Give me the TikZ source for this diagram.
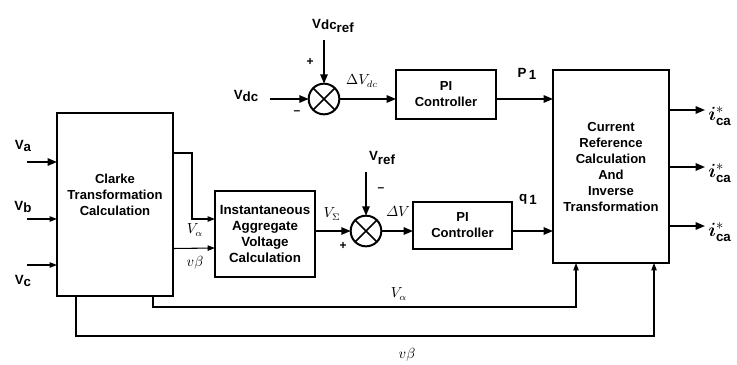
\documentclass[tikz,border=0pt]{standalone}
\usepackage{amsmath,amssymb}
\usepackage{fontspec}
\setmainfont{Liberation Sans}
\usepackage{tikz}
\usetikzlibrary{arrows.meta,positioning,calc}
\newcommand{\sigl}[2]{\textbf{#1}\raisebox{-0.4ex}{\textbf{#2}}}
\newcommand{\icaref}{$\boldsymbol{i}^{*}_{\text{\normalsize\bfseries ca}}$}
\tikzset{
  block/.style={draw,line width=1.5pt,align=center,inner sep=0pt,outer sep=0pt,
    font=\bfseries\fontsize{9.8}{12}\selectfont},
  boxtext/.style={align=center,inner sep=0pt,font=\bfseries\fontsize{9.8}{11.8}\selectfont},
  summer/.style={draw,circle,line width=1.5pt,minimum size=23pt,inner sep=0pt,outer sep=0pt},
  arrow/.style={-{Triangle[length=7pt,width=5.5pt]},line width=1.3pt},
  thinarrow/.style={-{Triangle[length=5.5pt,width=4pt]},line width=0.8pt},
  siglabel/.style={inner sep=1pt,font=\fontsize{10}{12}\selectfont},
  mathlabel/.style={inner sep=1pt,font=\fontsize{10.5}{12}\selectfont},
  signlabel/.style={inner sep=0pt,font=\bfseries\fontsize{9}{10}\selectfont},
  outlabel/.style={inner sep=0pt,anchor=west,font=\fontsize{15}{15}\selectfont}
}
\begin{document}
\begin{tikzpicture}[x=0.75pt,y=-0.75pt]
  \useasboundingbox[fill=white] (0,0) rectangle (737,364);
  % blocks
  \node[block,minimum width=87pt,minimum height=137.25pt] (clarke) at (115,204.5) {};
  \node[boxtext] (clarketxt) at (115,195) {Clarke\\Transformation\\Calculation};
  \node[block,minimum width=75pt,minimum height=64.5pt,font=\bfseries\fontsize{10}{11.8}\selectfont] (agg) at (265,234) {Instantaneous\\Aggregate\\Voltage\\Calculation};
  \node[block,minimum width=75pt,minimum height=36.75pt] (pidc) at (446,94.5) {PI\\Controller};
  \node[block,minimum width=74.25pt,minimum height=35.25pt] (piv) at (462.5,225.5) {PI\\Controller};
  \node[block,minimum width=87pt,minimum height=144.75pt] (curref) at (611,166.5) {Current\\Reference\\Calculation\\And\\Inverse\\Transformation};
  \node[summer] (sdc) at (324,99) {};
  \node[summer] (sv) at (366,231) {};
  \foreach \s in {sdc,sv}
    \draw[line width=1.2pt] (\s.45) -- (\s.225) (\s.135) -- (\s.315);

  % free ends
  \coordinate (vain) at (27,162);
  \coordinate (vbin) at (27,219);
  \coordinate (vcin) at (27,265);
  \coordinate (vdcin) at (270,99);
  \coordinate (vdcrefin) at (324,40);
  \coordinate (vrefin) at (366,172);
  \coordinate (oa) at (705,110);
  \coordinate (ob) at (705,167);
  \coordinate (oc) at (705,226);
  \coordinate (kbend) at (192,153);
  \coordinate (fa) at (576,307);
  \coordinate (fb) at (654,336);

  % signals
  \draw[arrow] (vain) -- (vain -| clarke.west);
  \draw[thinarrow] (vbin) -- (vbin -| clarke.west);
  \draw[thinarrow] (vcin) -- (vcin -| clarke.west);
  \draw[thinarrow] (clarke.east |- kbend) -- (kbend) -- (kbend |- vbin) -- (vbin -| agg.west);
  \draw[thinarrow] ($(clarke.east)+(0,44)$) -- ($(agg.west)+(0,14)$);
  \draw[arrow] (vdcin) -- (sdc);
  \draw[arrow] (vdcrefin) -- (sdc);
  \draw[arrow] (sdc) -- (sdc -| pidc.west);
  \draw[arrow] (pidc.east |- sdc) -- (curref.west |- sdc);
  \draw[arrow] (agg.east |- sv) -- (sv);
  \draw[arrow] (vrefin) -- (sv);
  \draw[arrow] (sv) -- (sv -| piv.west);
  \draw[arrow] (piv.east |- sv) -- (curref.west |- sv);
  \draw[arrow] (curref.east |- oa) -- (oa);
  \draw[arrow] (curref.east |- ob) -- (ob);
  \draw[arrow] (curref.east |- oc) -- (oc);
  \draw[thinarrow] ($(clarke.south)+(38,0)$) |- (fa) -- (fa |- curref.south);
  \draw[thinarrow] ($(clarke.south)+(-39,0)$) |- (fb) -- (fb |- curref.south);

  % labels
  \node[siglabel] (lva) at (23,146) {\sigl{V}{a}};
  \node[siglabel] (lvb) at (23,207) {\sigl{V}{b}};
  \node[siglabel] (lvc) at (23,281) {\sigl{V}{c}};
  \node[siglabel] (lvdc) at (246,96) {\sigl{V}{dc}};
  \node[siglabel] (lvdcref) at (333,26) {\textbf{V}\raisebox{-0.2ex}{\textbf{dc}}\raisebox{-0.7ex}{\textbf{ref}}};
  \node[siglabel] (lvref) at (382,158) {\textbf{V}\raisebox{-0.6ex}{\textbf{ref}}};
  \node[siglabel] (lp) at (527,74) {\sigl{P}{\,1}};
  \node[siglabel] (lq) at (528,199) {\sigl{q}{\,1}};
  \node[signlabel] (pdc) at (310,62) {+};
  \node[signlabel] (mdc) at (297,113) {--};
  \node[signlabel] (pv) at (343,246) {+};
  \node[signlabel] (mv) at (381,190) {--};
  \node[mathlabel] (ldvdc) at (362,81) {$\Delta V_{dc}$};
  \node[mathlabel] (lvsig) at (332,214) {$V_{\Sigma}$};
  \node[mathlabel] (ldv) at (398,212) {$\varDelta V$};
  \node[mathlabel] (lal) at (195,230) {$V_{\alpha}$};
  \node[mathlabel] (lbe) at (195,263) {$v\beta$};
  \node[mathlabel] (lalb) at (399,294) {$V_{\alpha}$};
  \node[mathlabel] (lbeb) at (407,355) {$v\beta$};
  \node[outlabel] (lia) at ($(oa)+(3,6)$) {\icaref};
  \node[outlabel] (lib) at ($(ob)+(3,6)$) {\icaref};
  \node[outlabel] (lic) at ($(oc)+(3,6)$) {\icaref};
\end{tikzpicture}
\end{document}
